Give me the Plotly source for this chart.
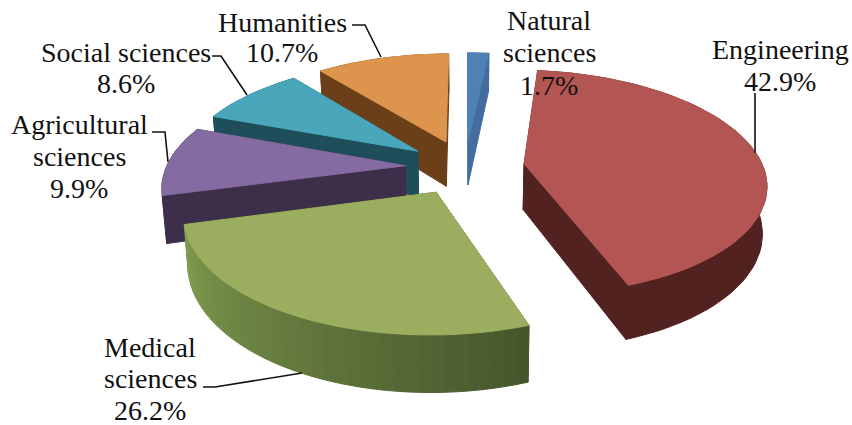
import math
import plotly.graph_objects as go

categories = ["Natural sciences", "Engineering", "Medical sciences",
              "Agricultural sciences", "Social sciences", "Humanities"]
values = [1.7, 42.9, 26.2, 9.9, 8.6, 10.7]
label_lines = [["Natural", "sciences"], ["Engineering"], ["Medical", "sciences"],
               ["Agricultural", "sciences"], ["Social sciences"], ["Humanities"]]

top_colors = ["#4f81b6", "#b35653", "#9bae5f", "#846ba1", "#4aa7bb", "#dd944c"]
side_colors = ["#426d9e", "#522221", "#46562b", "#3d2f49", "#1f4e5b", "#6b4019"]
wall_start = ["#426d9e", "#522221", "#46562b", "#3d2f49", "#1f4e5b", "#6b4019"]
wall_end = ["#426d9e", "#522221", "#809c4f", "#3d2f49", "#1f4e5b", "#6b4019"]
draw_order = [0, 5, 4, 3, 1, 2]

CX, CY, A, B, K, H, EXPLODE, LOW_X = 465, 167, 239, 110, 0.164, 46, 0.25, 0.985

label_pos = [(549, [20, 52, 85]), (780, [49, 81]), (150, [347, 378, 410]),
             (79, [124, 156, 188]), (126, [52, 83]), (282, [22, 52])]
leaders = [[(755, 93), (755, 153)],
           [(352, 25), (365, 25), (381, 57)],
           [(212, 56), (221, 56), (247, 95)],
           [(152, 132), (165, 132), (168, 162)],
           [(203, 387), (215, 387), (302, 373)]]


def proj(X, Y, low=False):
    s = 1 / (1 + K * Y)
    return (CX + A * s * X * (LOW_X if low else 1),
            CY - B * s * Y + (H * s if low else 0))


def mix(c1, c2, t):
    a = [int(c1[i:i + 2], 16) for i in (1, 3, 5)]
    b = [int(c2[i:i + 2], 16) for i in (1, 3, 5)]
    return "#%02x%02x%02x" % tuple(round(p + (q - p) * t) for p, q in zip(a, b))


def poly(fig, pts, color, width=1.0):
    fig.add_trace(go.Scatter(x=[p[0] for p in pts] + [pts[0][0]],
                             y=[p[1] for p in pts] + [pts[0][1]],
                             mode="lines", fill="toself", fillcolor=color,
                             line=dict(color=color, width=width),
                             hoverinfo="skip", showlegend=False))


fig = go.Figure()
total = sum(values)
starts = [sum(values[:i]) / total * 2 * math.pi for i in range(len(values))]

for i in draw_order:
    t0 = starts[i]
    t1 = t0 + values[i] / total * 2 * math.pi
    mid = (t0 + t1) / 2
    ox, oy = EXPLODE * math.sin(mid), EXPLODE * math.cos(mid)
    n = max(6, int((t1 - t0) * 24))
    arc = [(ox + math.sin(t0 + (t1 - t0) * j / n), oy + math.cos(t0 + (t1 - t0) * j / n))
           for j in range(n + 1)]
    apex = (ox, oy)
    for edge in (arc[0], arc[-1]):
        poly(fig, [proj(*apex), proj(*edge), proj(*edge, True), proj(*apex, True)], side_colors[i])
    if wall_start[i] == wall_end[i]:
        poly(fig, [proj(*p) for p in arc] + [proj(*p, True) for p in reversed(arc)], wall_start[i])
    else:
        for j in range(n):
            c = mix(wall_start[i], wall_end[i], j / max(1, n - 1))
            poly(fig, [proj(*arc[j]), proj(*arc[j + 1]), proj(*arc[j + 1], True), proj(*arc[j], True)], c)
    poly(fig, [proj(*apex)] + [proj(*p) for p in arc], top_colors[i])

for path in leaders:
    fig.add_trace(go.Scatter(x=[p[0] for p in path], y=[p[1] for p in path], mode="lines",
                             line=dict(color="#111111", width=1.6),
                             hoverinfo="skip", showlegend=False))

for lines, val, (x, ys) in zip(label_lines, values, label_pos):
    for txt, y in zip(lines + [f"{val}%"], ys):
        fig.add_annotation(x=x, y=y, text=txt, showarrow=False, xanchor="center", yanchor="middle",
                           font=dict(family="Liberation Serif", size=28, color="#111111"))

fig.update_layout(width=852, height=425, autosize=False,
                  margin=dict(l=0, r=0, t=0, b=0),
                  paper_bgcolor="white", plot_bgcolor="white", showlegend=False,
                  xaxis=dict(range=[0, 852], visible=False, fixedrange=True),
                  yaxis=dict(range=[425, 0], visible=False, fixedrange=True))
fig.write_html("out.html", config={"displayModeBar": False},
               post_script="document.body.style.margin='0';document.body.style.overflow='hidden';")
